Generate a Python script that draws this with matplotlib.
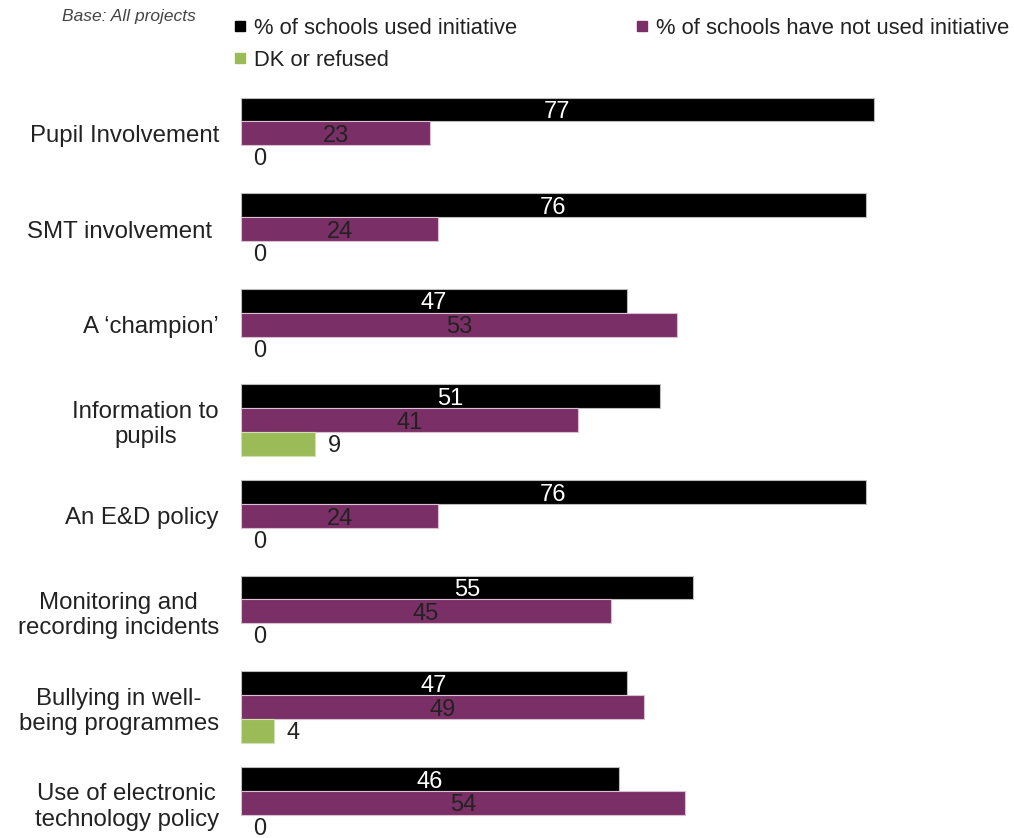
import numpy as np
import matplotlib
matplotlib.use("Agg")
from matplotlib import pyplot as plt
from matplotlib.lines import Line2D

plt.rcParams['font.family'] = ['Liberation Sans', 'DejaVu Sans']

labels = ['Pupil Involvement', 'SMT involvement ', 'A \u2018champion\u2019',
          'Information to\npupils', 'An E&D policy', 'Monitoring and\nrecording incidents',
          'Bullying in well-\nbeing programmes', 'Use of electronic\ntechnology policy']
used = [77, 76, 47, 51, 76, 55, 47, 46]
not_used = [23, 24, 53, 41, 24, 45, 49, 54]
dk = [0, 0, 0, 9, 0, 0, 4, 0]

black = '#000000'
purple = '#7a2f66'
green = '#9bbb59'
txt = '#222222'

fig = plt.figure(figsize=(10.14, 8.38), dpi=100)
ax = fig.add_axes([241 / 1014, 0, 773 / 1014, (838 - 85) / 838])

base = np.arange(len(labels)) * 4
h = 1.0
ax.barh(base, used, height=h, color=black, edgecolor='#bbbbbb', linewidth=0.8)
ax.barh(base + 1, not_used, height=h, color=purple, edgecolor='#d8c0d0', linewidth=0.8)
# zero-width bars get no edge so no stray line shows
dk_lw = [0.8 if v > 0 else 0 for v in dk]
ax.barh(base + 2, dk, height=h, color=green, edgecolor='#d0e0b0', linewidth=dk_lw)

for i in range(len(labels)):
    ax.annotate(str(used[i]), (used[i] / 2, base[i]), xytext=(0, -2), textcoords='offset points',
                color='white', fontsize=17, ha='center', va='center')
    ax.annotate(str(not_used[i]), (not_used[i] / 2, base[i] + 1), xytext=(0, -2),
                textcoords='offset points', color=txt, fontsize=17, ha='center', va='center')
    ax.annotate(str(dk[i]), (dk[i], base[i] + 2), xytext=(9, -1.5), textcoords='offset points',
                color=txt, fontsize=17, ha='left', va='center')

ax.set_xlim(0, 773 / 8.22)
ax.set_ylim(30.48, -1.025)
ax.set_yticks(base + 1)
ax.set_yticklabels(labels, fontsize=17.3, color=txt, multialignment='center')
ax.tick_params(axis='y', length=0, pad=16)
ax.set_xticks([])
for s in ax.spines.values():
    s.set_visible(False)

fig.text(62 / 1014, 1 - 16 / 838, 'Base: All projects', fontsize=12.5, style='italic',
         color='#444444', va='center', ha='left')

handles = [Line2D([], [], marker='s', color=c, linestyle='none', markersize=7)
           for c in (black, purple, green)]
names = ['% of schools used initiative', '% of schools have not used initiative', 'DK or refused']
order = [0, 2, 1]
leg = fig.legend([handles[k] for k in order], [names[k] for k in order], ncol=2,
                 loc='upper left', bbox_to_anchor=(233 / 1014, 1 - 18 / 838),
                 frameon=False, fontsize=15.8, handlelength=0.6, handletextpad=0.35,
                 columnspacing=5.4, labelspacing=0.5, borderaxespad=0, borderpad=0)
for t in leg.get_texts():
    t.set_color(txt)

fig.savefig('out.png', dpi=100, facecolor='white')
